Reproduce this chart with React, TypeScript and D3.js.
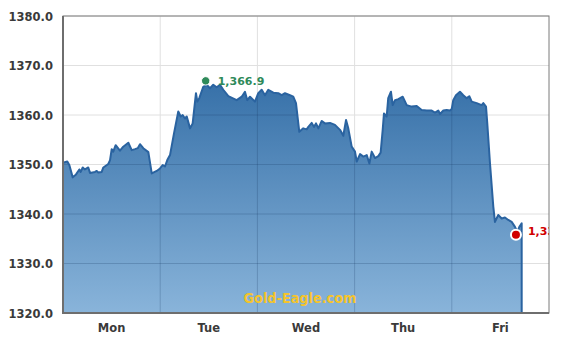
import React from "react";
import * as d3 from "d3";

const dayLabels = ["Mon", "Tue", "Wed", "Thu", "Fri"];
const yTicks = [1320, 1330, 1340, 1350, 1360, 1370, 1380];

// time in trading days from Monday start
const times = [
  0.010, 0.044, 0.065, 0.100, 0.134, 0.168, 0.182, 0.203, 0.226, 0.260, 0.278, 0.329, 0.347, 0.363, 0.398, 0.415,
  0.466, 0.484, 0.501, 0.517, 0.542, 0.586, 0.620, 0.672, 0.707, 0.741, 0.769, 0.792, 0.826, 0.878, 0.913, 0.964,
  0.998, 1.026, 1.049, 1.073, 1.101, 1.142, 1.186, 1.211, 1.231, 1.255, 1.273, 1.307, 1.334, 1.368, 1.382, 1.402,
  1.443, 1.478, 1.512, 1.546, 1.581, 1.615, 1.649, 1.701, 1.787, 1.839, 1.872, 1.896, 1.924, 1.975, 2.009, 2.044,
  2.078, 2.112, 2.164, 2.215, 2.250, 2.284, 2.335, 2.369, 2.397, 2.431, 2.472, 2.507, 2.524, 2.559, 2.582, 2.603,
  2.627, 2.662, 2.695, 2.747, 2.798, 2.850, 2.884, 2.912, 2.935, 2.970, 3.004, 3.022, 3.056, 3.090, 3.125, 3.152,
  3.176, 3.210, 3.244, 3.268, 3.289, 3.302, 3.330, 3.346, 3.374, 3.392, 3.416, 3.450, 3.495, 3.536, 3.587, 3.639,
  3.690, 3.742, 3.793, 3.827, 3.861, 3.879, 3.913, 3.947, 3.981, 3.999, 4.015, 4.043, 4.084, 4.118, 4.153, 4.180,
  4.205, 4.256, 4.307, 4.324, 4.352, 4.365, 4.393, 4.427, 4.444, 4.478, 4.513, 4.547, 4.581, 4.616, 4.650, 4.674,
  4.695, 4.719,
];
const prices = [
  1350.4, 1350.6, 1349.9, 1347.4, 1348.0, 1349.0, 1348.5, 1349.4, 1349.0, 1349.4, 1348.3, 1348.5, 1348.7, 1348.4, 1348.5, 1349.4,
  1350.1, 1350.9, 1353.1, 1352.6, 1353.9, 1352.8, 1353.6, 1354.4, 1352.9, 1353.1, 1353.3, 1354.1, 1353.3, 1352.5, 1348.2, 1348.7,
  1349.2, 1349.9, 1349.6, 1350.9, 1351.9, 1356.3, 1360.7, 1359.7, 1360.0, 1359.3, 1359.7, 1357.3, 1358.3, 1364.4, 1362.7, 1363.4,
  1365.7, 1366.1, 1365.4, 1366.1, 1365.6, 1366.1, 1365.1, 1363.8, 1363.0, 1363.7, 1364.7, 1363.0, 1363.7, 1362.7, 1364.4, 1365.1,
  1364.0, 1365.1, 1364.5, 1364.4, 1364.0, 1364.4, 1364.0, 1363.7, 1362.4, 1356.6, 1357.3, 1357.1, 1357.6, 1358.4, 1357.6, 1358.3,
  1357.3, 1358.8, 1358.3, 1358.4, 1358.0, 1357.0, 1355.8, 1359.0, 1357.3, 1353.6, 1352.6, 1350.6, 1352.1, 1351.6, 1351.9, 1350.2,
  1352.6, 1351.3, 1351.7, 1352.4, 1357.0, 1360.3, 1359.7, 1363.4, 1364.7, 1362.0, 1363.0, 1363.2, 1363.7, 1362.0, 1361.7, 1361.8,
  1361.0, 1360.9, 1360.9, 1360.5, 1360.9, 1360.2, 1360.9, 1361.0, 1360.9, 1361.2, 1363.0, 1364.0, 1364.7, 1364.0, 1363.4, 1363.8,
  1362.7, 1362.4, 1362.0, 1362.4, 1361.7, 1358.3, 1350.2, 1341.5, 1338.4, 1339.8, 1339.1, 1339.3, 1338.8, 1338.4, 1337.4, 1336.4,
  1337.4, 1338.1,
];

const highPoint = { t: 1.468, v: 1366.9, label: "1,366.9" };
const lastPoint = { t: 4.66, v: 1335.8, label: "1,335.8" };

const W = 571;
const H = 341;
const M = { left: 63, right: 22, top: 16, bottom: 28 };

export default function App() {
  const x = d3.scaleLinear().domain([0, 5]).range([M.left, W - M.right]);
  const y = d3.scaleLinear().domain([1320, 1380]).range([H - M.bottom, M.top]);
  const data = times.map((t, i) => ({ t, v: prices[i] }));
  const lastT = times[times.length - 1];
  const lineData = [...data, { t: lastT, v: 1320 }];

  const area = d3
    .area<{ t: number; v: number }>()
    .x((d) => x(d.t))
    .y0(y(1320))
    .y1((d) => y(d.v));
  const line = d3
    .line<{ t: number; v: number }>()
    .x((d) => x(d.t))
    .y((d) => y(d.v));

  const x0 = M.left;
  const x1 = W - M.right;
  const y0 = H - M.bottom;
  const y1 = M.top;

  return (
    <svg
      width={W}
      height={H}
      style={{ position: "absolute", left: 0, top: 0, background: "#fff" }}
      fontFamily="'DejaVu Sans', Verdana, sans-serif"
    >
      <defs>
        <linearGradient id="fillU" x1="0" y1={y(1367)} x2="0" y2={y0} gradientUnits="userSpaceOnUse">
          <stop offset="0" stopColor="#3670a8" />
          <stop offset="1" stopColor="#89b4da" />
        </linearGradient>
        <clipPath id="plotClip">
          <rect x={x0} y={y1} width={x1 - x0} height={y0 - y1} />
        </clipPath>
        <clipPath id="areaClip">
          <path d={area(data) || ""} />
        </clipPath>
      </defs>

      {/* background grid */}
      {yTicks.map((v) => (
        <line key={"gy" + v} x1={x0} x2={x1} y1={y(v)} y2={y(v)} stroke="#e0e0e0" strokeWidth={1} />
      ))}
      {d3.range(1, 5).map((d) => (
        <line key={"gx" + d} x1={x(d)} x2={x(d)} y1={y1} y2={y0} stroke="#e0e0e0" strokeWidth={1} />
      ))}

      <path d={area(data) || ""} fill="url(#fillU)" />

      {/* grid seen through the area */}
      <g clipPath="url(#areaClip)">
        {yTicks.map((v) => (
          <line key={"ay" + v} x1={x0} x2={x1} y1={y(v)} y2={y(v)} stroke="rgba(20,50,90,0.22)" strokeWidth={1} />
        ))}
        {d3.range(1, 5).map((d) => (
          <line key={"ax" + d} x1={x(d)} x2={x(d)} y1={y1} y2={y0} stroke="rgba(20,50,90,0.22)" strokeWidth={1} />
        ))}
      </g>

      <path d={line(lineData) || ""} fill="none" stroke="#2a63a0" strokeWidth={2} strokeLinejoin="round" />

      {/* frame */}
      <rect x={x0} y={y1} width={x1 - x0} height={y0 - y1} fill="none" stroke="#7a7a7a" strokeWidth={1} />
      <line x1={x0} x2={x0} y1={y1} y2={y0 + 1} stroke="#6e6e6e" strokeWidth={2} />
      <line x1={x0} x2={x1} y1={y0} y2={y0} stroke="#6e6e6e" strokeWidth={2} />

      {/* y labels */}
      {yTicks.map((v) => (
        <text key={"yl" + v} x={53} y={y(v) + 4.5} textAnchor="end" fontSize={11.5} fontWeight="bold" fill="#3a3a3a">
          {d3.format(".1f")(v)}
        </text>
      ))}
      {/* x labels */}
      {dayLabels.map((d, i) => (
        <text key={d} x={x(i + 0.5)} y={332} textAnchor="middle" fontSize={11.5} fontWeight="bold" fill="#3a3a3a">
          {d}
        </text>
      ))}

      {/* watermark */}
      <text x={300} y={303} textAnchor="middle" fontSize={14.3} fontWeight="bold" fill="#f5c42c"
        fontFamily="'DejaVu Sans Condensed', 'DejaVu Sans', sans-serif">
        Gold-Eagle.com
      </text>

      {/* high marker */}
      <circle cx={x(highPoint.t)} cy={y(highPoint.v)} r={4.2} fill="#2f8a5a" stroke="#fff" strokeWidth={1} />
      <text x={x(highPoint.t) + 12} y={y(highPoint.v) + 4} fontSize={11} fontWeight="bold" fill="#2f8a5a">
        {highPoint.label}
      </text>

      {/* last marker */}
      <circle cx={x(lastPoint.t)} cy={y(lastPoint.v)} r={5} fill="#d10000" stroke="#fff" strokeWidth={2} />
      <g clipPath="url(#plotClip)">
        <text x={x(lastPoint.t) + 12} y={y(lastPoint.v)} fontSize={11} fontWeight="bold" fill="#d10000">
          {lastPoint.label}
        </text>
      </g>
    </svg>
  );
}
